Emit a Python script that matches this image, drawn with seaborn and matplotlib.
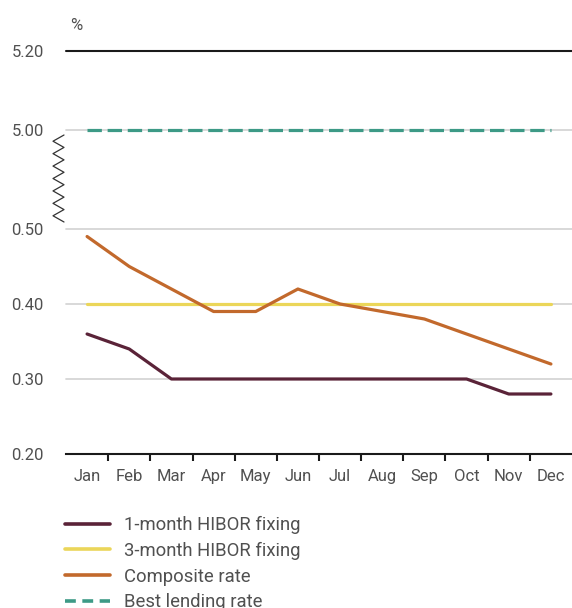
import numpy as np
import pandas as pd
import seaborn as sns
import matplotlib
matplotlib.use("Agg")
import matplotlib.pyplot as plt
from matplotlib.lines import Line2D

months = ["Jan", "Feb", "Mar", "Apr", "May", "Jun", "Jul", "Aug", "Sep", "Oct", "Nov", "Dec"]
hibor_1m = [0.36, 0.34, 0.30, 0.30, 0.30, 0.30, 0.30, 0.30, 0.30, 0.30, 0.28, 0.28]
hibor_3m = [0.40, 0.40, 0.40, 0.40, 0.40, 0.40, 0.40, 0.40, 0.40, 0.40, 0.40, 0.40]
composite = [0.49, 0.45, 0.42, 0.39, 0.39, 0.42, 0.40, 0.39, 0.38, 0.36, 0.34, 0.32]
best_lending = [5.00] * 12
series_names = ["1-month HIBOR fixing", "3-month HIBOR fixing", "Composite rate", "Best lending rate"]
lower_ticks = [0.20, 0.30, 0.40, 0.50]
upper_ticks = [5.00, 5.20]

colors = {
    "1-month HIBOR fixing": "#5a2338",
    "3-month HIBOR fixing": "#ebd659",
    "Composite rate": "#c2692c",
    "Best lending rate": "#3d9a86",
}

sns.set_theme(style="white")
plt.rcParams["font.family"] = ["Roboto", "DejaVu Sans"]
TXT = "#505050"
FS = 12
LFS = 13.3

W, H = 572, 608
fig = plt.figure(figsize=(W / 100, H / 100), dpi=100)

def fx(px):
    return px / W

def fy(py):
    return 1 - py / H

ax_lo = fig.add_axes([fx(66), fy(454), fx(572) - fx(66), fy(229) - fy(454)])
ax_up = fig.add_axes([fx(66), fy(130), fx(572) - fx(66), fy(51) - fy(130)])

low_df = pd.DataFrame({
    "Month": months * 3,
    "Rate": hibor_1m + hibor_3m + composite,
    "Series": [series_names[0]] * 12 + [series_names[1]] * 12 + [series_names[2]] * 12,
})
up_df = pd.DataFrame({"Month": months, "Rate": best_lending, "Series": [series_names[3]] * 12})

LW = 2.3
# grid lines
for v in [0.30, 0.40, 0.50]:
    ax_lo.axhline(v, color="#d6d6d6", lw=1.3, zorder=0, clip_on=False)
ax_up.axhline(5.00, color="#d6d6d6", lw=1.3, zorder=0, clip_on=False)
ax_up.axhline(5.20, color="#1a1a1a", lw=1.5, zorder=1, clip_on=False)

sns.lineplot(data=low_df, x="Month", y="Rate", hue="Series", palette=colors,
             hue_order=series_names[:3], linewidth=LW, legend=False, sort=False, ax=ax_lo)
sns.lineplot(data=up_df, x="Month", y="Rate", hue="Series", palette=colors,
             linewidth=LW, legend=False, sort=False, ax=ax_up)
for ln in ax_up.get_lines()[2:]:
    ln.set_dashes((4.5, 1.8))
    ln.set_clip_on(False)

for ax in (ax_lo, ax_up):
    ax.set_xlim(-0.5, 11.5)
    ax.set_xlabel("")
    ax.set_ylabel("")
    for s in ax.spines.values():
        s.set_visible(False)
    ax.set_facecolor("none")

ax_lo.set_ylim(0.20, 0.50)
ax_lo.set_yticks(lower_ticks)
ax_lo.set_yticklabels([f"{v:.2f}" for v in lower_ticks])
ax_up.set_ylim(5.00, 5.20)
ax_up.set_yticks(upper_ticks)
ax_up.set_yticklabels([f"{v:.2f}" for v in upper_ticks])
ax_up.set_xticks([])

ax_lo.spines["bottom"].set_visible(True)
ax_lo.spines["bottom"].set_color("#1a1a1a")
ax_lo.spines["bottom"].set_linewidth(1.5)
ax_lo.set_xticks(range(12))
ax_lo.set_xticklabels(months)
ax_lo.set_xticks(np.arange(0.5, 11, 1.0), minor=True)
ax_lo.tick_params(axis="x", which="major", length=0, pad=11, labelsize=FS, labelcolor=TXT)
ax_lo.tick_params(axis="x", which="minor", length=5, width=1.5, color="#1a1a1a", direction="out", bottom=True)
for ax in (ax_lo, ax_up):
    ax.tick_params(axis="y", length=0, pad=16, labelsize=FS, labelcolor=TXT)

fig.text(fx(70), fy(26), "%", fontsize=FS, color=TXT, ha="left", va="center")

# axis-break zigzag
zz_y = np.linspace(135, 222, 15)
zz_x = np.where(np.arange(15) % 2 == 0, 64, 53)
fig.add_artist(Line2D(fx(zz_x), fy(zz_y), color="#333333", lw=0.9, transform=fig.transFigure))

handles = []
for name in series_names:
    if name == "Best lending rate":
        h = Line2D([], [], color=colors[name], lw=LW + 0.3, dashes=(3.0, 1.8))
    else:
        h = Line2D([], [], color=colors[name], lw=LW + 0.3)
    handles.append(h)
leg = fig.legend(handles, series_names, loc="upper left", bbox_to_anchor=(fx(65), fy(516)),
                 frameon=False, fontsize=LFS, handlelength=2.45, handletextpad=0.76,
                 labelspacing=0.42, borderpad=0, borderaxespad=0)
for t in leg.get_texts():
    t.set_color(TXT)

fig.savefig("out.png", dpi=100)
